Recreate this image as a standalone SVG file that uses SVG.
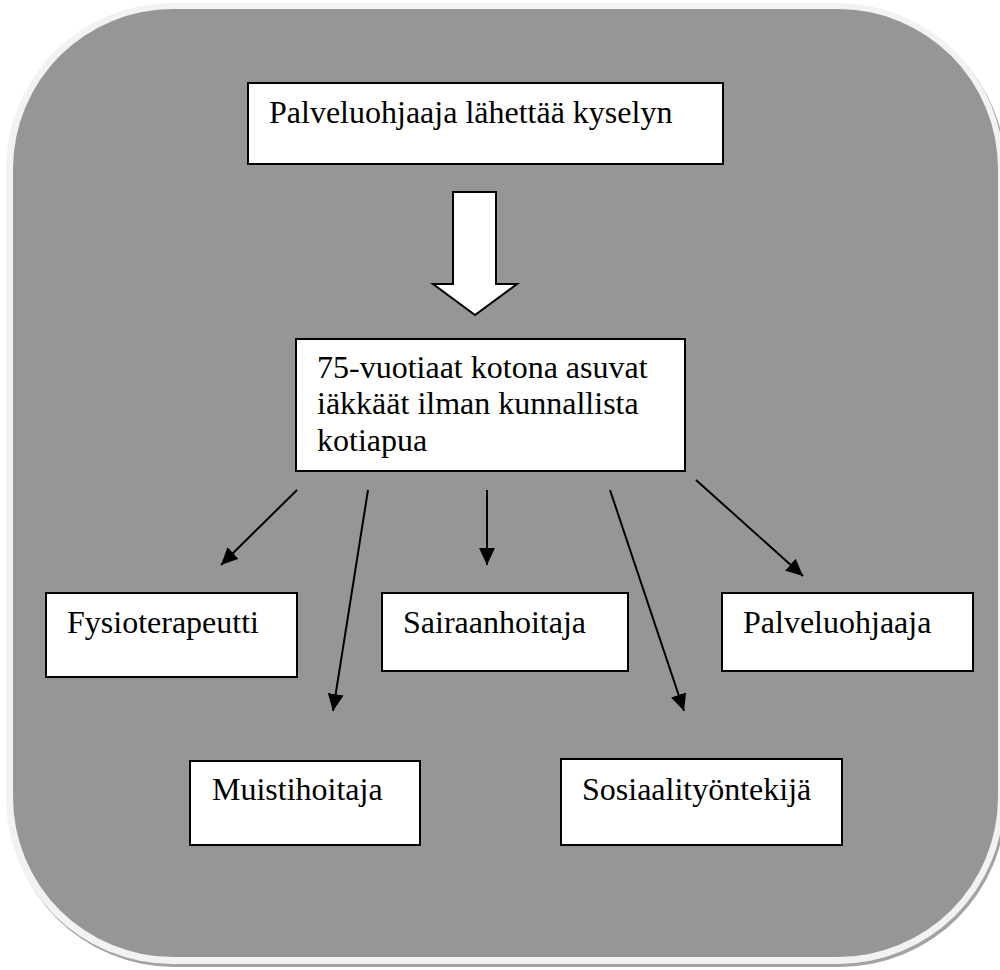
<svg xmlns="http://www.w3.org/2000/svg" width="1000" height="970" viewBox="0 0 1000 970">
  <style>
    .box { fill: #ffffff; stroke: #000000; stroke-width: 2; }
    .lbl { font-family: "Liberation Serif", "Times New Roman", serif; font-size: 32px; fill: #000000; }
    .conn { stroke: #000000; stroke-width: 2; fill: none; marker-end: url(#ah); }
  </style>
  <defs>
    <marker id="ah" viewBox="0 0 17 16" refX="17" refY="8" markerWidth="17" markerHeight="16" markerUnits="userSpaceOnUse" orient="auto">
      <path d="M0,0 L17,8 L0,16 z" fill="#000000"/>
    </marker>
  </defs>

  <g id="background">
    <rect x="8" y="6" width="998" height="961" rx="166" ry="166" fill="#a3a3a3"/>
    <rect x="6" y="3" width="998" height="961" rx="166" ry="166" fill="#f2f2f2"/>
    <rect x="13" y="9" width="985" height="948" rx="160" ry="160" fill="#969696"/>
  </g>

  <g id="node-top">
    <rect class="box" x="248" y="83" width="475" height="81"/>
    <text class="lbl" x="269" y="123">Palveluohjaaja lähettää kyselyn</text>
  </g>

  <g id="block-arrow">
    <path d="M453,192 L496,192 L496,284 L517,284 L475,315 L433,284 L453,284 Z" fill="#ffffff" stroke="#000000" stroke-width="2"/>
  </g>

  <g id="node-middle">
    <rect class="box" x="296" y="339" width="389" height="132"/>
    <text class="lbl" x="317" y="378">75-vuotiaat kotona asuvat</text>
    <text class="lbl" x="317" y="414">iäkkäät ilman kunnallista</text>
    <text class="lbl" x="317" y="451">kotiapua</text>
  </g>

  <g id="connectors">
    <line class="conn" x1="297" y1="490" x2="221" y2="565"/>
    <line class="conn" x1="368" y1="490" x2="333" y2="711"/>
    <line class="conn" x1="487" y1="490" x2="487" y2="565"/>
    <line class="conn" x1="610" y1="490" x2="684" y2="711"/>
    <line class="conn" x1="696" y1="480" x2="803" y2="576"/>
  </g>

  <g id="node-fysioterapeutti">
    <rect class="box" x="46" y="593" width="251" height="84"/>
    <text class="lbl" x="67" y="633">Fysioterapeutti</text>
  </g>

  <g id="node-sairaanhoitaja">
    <rect class="box" x="382" y="593" width="246" height="78"/>
    <text class="lbl" x="403" y="633">Sairaanhoitaja</text>
  </g>

  <g id="node-palveluohjaaja">
    <rect class="box" x="722" y="593" width="251" height="78"/>
    <text class="lbl" x="743" y="633">Palveluohjaaja</text>
  </g>

  <g id="node-muistihoitaja">
    <rect class="box" x="190" y="761" width="230" height="84"/>
    <text class="lbl" x="212" y="800">Muistihoitaja</text>
  </g>

  <g id="node-sosiaalityontekija">
    <rect class="box" x="561" y="759" width="281" height="86"/>
    <text class="lbl" x="582" y="800">Sosiaalityöntekijä</text>
  </g>
</svg>
